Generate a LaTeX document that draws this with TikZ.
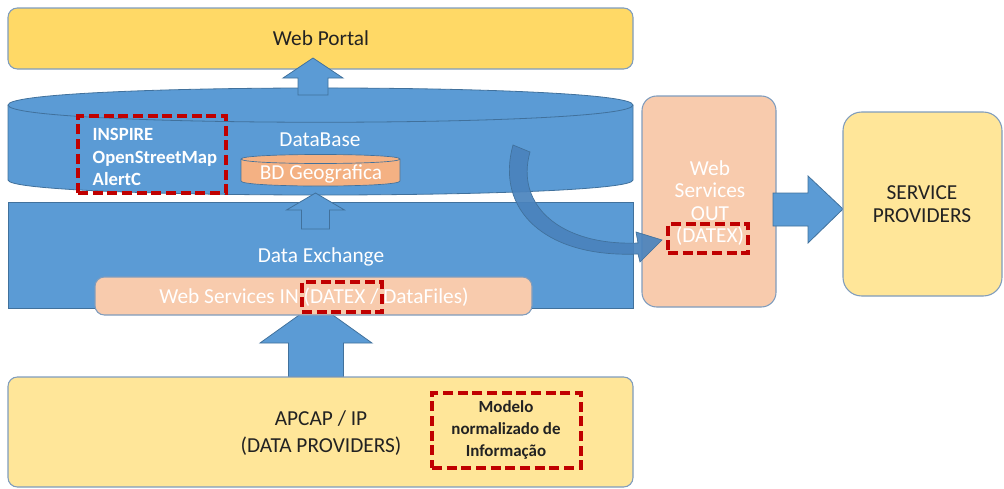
\documentclass[tikz,border=0pt]{standalone}
\usepackage{fontspec}
\setmainfont{Carlito}
\usetikzlibrary{fit}
\definecolor{pblue}{HTML}{5B9BD5}
\definecolor{pbluedark}{HTML}{41719C}
\definecolor{pgold}{HTML}{FFD966}
\definecolor{pyellow}{HTML}{FFE699}
\definecolor{ppeach}{HTML}{F8CBAD}
\definecolor{porange}{HTML}{F4B183}
\definecolor{pred}{HTML}{C00000}
\definecolor{pedge}{HTML}{7F9CBD}
\definecolor{ptext}{HTML}{222222}
\definecolor{pcurve}{HTML}{4A83BD}
\newcommand\myblockup[6]{\path[blockarrow] (#1-#6,#4) -- (#1-#6,#3) -- (#1-#5,#3) -- (#1,#2) -- (#1+#5,#3) -- (#1+#6,#3) -- (#1+#6,#4) -- cycle;}
\begin{document}
\begin{tikzpicture}[x=0.75pt,y=-0.75pt,
  every node/.style={font=\fontsize{16}{16.9}\selectfont},
  box/.style={draw=pedge,line width=0.8pt,inner sep=0pt,rounded corners=7pt},
  wtext/.style={text=white,align=center},
  dtext/.style={text=ptext,align=center},
  redbox/.style={draw=pred,line width=3pt,dash pattern=on 7.5pt off 3.5pt,inner sep=0pt},
  blockarrow/.style={fill=pblue,draw=pbluedark,line width=0.6pt,line join=miter},
  blueshape/.style={fill=pblue,draw=pbluedark,line width=0.6pt}]
\useasboundingbox (0,0) rectangle (1004,489);

% Web portal
\node[box,fill=pgold,fit={(8,8)(633,69)}] (portal) {};
\node[dtext] (portaltxt) at (321,38.5) {Web Portal};

% DataBase cylinder
\path[blueshape] (8,105) -- (8,180) .. controls (8,200) and (633,200) .. (633,180) -- (633,105) .. controls (633,82.3) and (8,82.3) .. (8,105) -- cycle;
\draw[pbluedark,line width=0.6pt] (8,105) .. controls (8,128) and (633,128) .. (633,105);
\node[wtext] (dbtxt) at (320,140) {DataBase};

% top arrow
\myblockup{313}{58}{78}{95}{30}{15}

% standards box
\node[redbox,fit={(78,116)(226,193)}] (stdbox) {};
\node[text=white,font=\fontsize{14}{16.9}\selectfont\bfseries,align=left,anchor=west] (stdtxt) at (88,157) {INSPIRE\\OpenStreetMap\\AlertC};

% BD Geografica cylinder
\path[fill=porange,draw=pbluedark,line width=0.5pt] (241,159) -- (241,181) .. controls (241,187.7) and (400,187.7) .. (400,181) -- (400,159) .. controls (400,153) and (241,153) .. (241,159) -- cycle;
\draw[pbluedark,line width=0.5pt] (241,159) .. controls (241,165) and (400,165) .. (400,159);
\node[wtext] (bdgeo) at (321,174) {BD Geografica};

% Data Exchange
\node[blueshape,fit={(8,202)(633,308)},inner sep=0pt] (dx) {};
\node[wtext] (dxtxt) at (321,257) {Data Exchange};

% small arrow
\myblockup{315.5}{193}{210}{229}{29}{14}

% big arrow
\myblockup{316}{303}{343}{377}{56}{27.5}

% Web Services IN
\node[box,fill=ppeach,fit={(95,277)(532,315)}] (wsin) {};
\node[wtext] (wsintxt) at (314,297) {Web Services IN (DATEX / DataFiles)};
\node[redbox,fit={(302,282)(382,312)}] (datexin) {};

% APCAP
\node[box,fill=pyellow,fit={(8,377)(633,487)}] (apcap) {};
\node[dtext,font=\fontsize{16}{20}\selectfont] (apcaptxt) at (321,433) {APCAP / IP\\(DATA PROVIDERS)};
\node[redbox,fit={(432,393)(581,468)}] (modelbox) {};
\node[dtext,font=\fontsize{12.7}{16.5}\selectfont\bfseries] (modeltxt) at (506,430) {Modelo\\normalizado de\\Informação};

% Web Services OUT
\node[box,rounded corners=11pt,fill=ppeach,fit={(642,96)(776,307)}] (wsout) {};
\node[wtext,font=\fontsize{16}{16.9}\selectfont] (wsouttxt) at (710,203) {Web\\Services\\OUT\\(DATEX)};
\node[redbox,fit={(668,224)(748,253)}] (datexout) {};

% curved arrow
\path[fill=pcurve,draw=pbluedark,line width=0.5pt,fill opacity=0.92] (513,145) .. controls (495,210) and (545,258) .. (638,254) -- (640,262) -- (662,240) -- (636,232) -- (638,243) .. controls (560,246) and (515,205) .. (530,152) -- cycle;

% right arrow
\path[blockarrow] (773,193) -- (808,193) -- (808,176) -- (843,209) -- (808,243) -- (808,226) -- (773,226) -- cycle;

% Service providers
\node[box,rounded corners=14pt,fill=pyellow,fit={(843,112)(1002,296)}] (sp) {};
\node[dtext] (sptxt) at (922,204) {SERVICE\\PROVIDERS};
\end{tikzpicture}
\end{document}
